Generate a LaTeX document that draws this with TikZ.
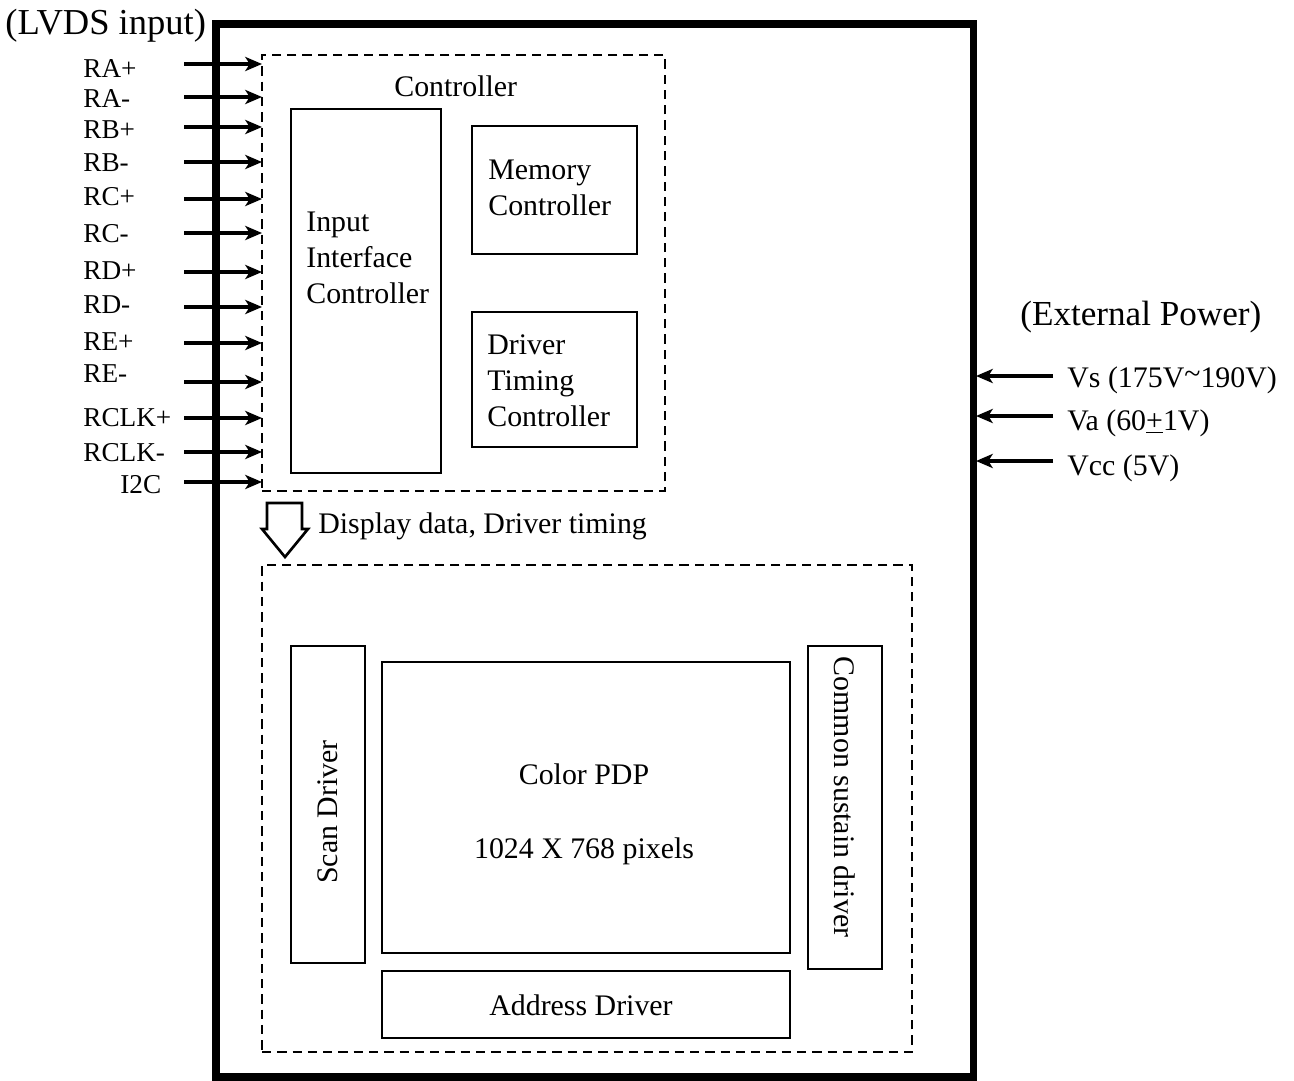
\documentclass[tikz,border=0pt]{standalone}
\usepackage{fontspec}
\setmainfont{Liberation Serif}
\usetikzlibrary{arrows.meta,fit}
\begin{document}
\begin{tikzpicture}[x=0.02cm,y=-0.02cm,
 box/.style={draw, line width=1.5pt, inner sep=0pt},
 dbox/.style={draw, line width=1.4pt, dash pattern=on 5.3pt off 3.4pt, inner sep=0pt},
 outer/.style={draw, line width=4pt, inner sep=0pt},
 sig/.style={line width=2.2pt, -{Stealth[length=9.5pt,width=8pt,inset=2.5pt]}},
 lab/.style={font=\fontsize{15.5}{18}\selectfont, inner sep=0pt, anchor=base west},
 txt/.style={font=\fontsize{17}{20.5}\selectfont, inner sep=0pt, align=left},
 big/.style={font=\fontsize{20.8}{24}\selectfont, inner sep=0pt, anchor=base west},
]
\useasboundingbox (0,0) rectangle (1294,1081);
% frames
\node[outer, fit={(216,24) (973,1077)}] (outerbox) {};
\node[dbox, fit={(262,55) (665,491)}] (ctrl) {};
\node[box, fit={(291,109) (441,473)}] (iic) {};
\node[box, fit={(472,126) (637,254)}] (mem) {};
\node[box, fit={(472,312) (637,447)}] (dtc) {};
\node[dbox, fit={(262,565) (912,1052)}] (panel) {};
\node[box, fit={(291,646) (365,963)}] (scan) {};
\node[box, fit={(382,662) (790,953)}] (pdp) {};
\node[box, fit={(382,971) (790,1038)}] (addr) {};
\node[box, fit={(808,646) (882,969)}] (sus) {};
% texts
\node[big] (lvds) at (5,35) {(LVDS input)};
\node[big, font=\fontsize{20}{24}\selectfont] (ext) at (1020,325) {(External Power)};
\node[txt, anchor=base west] (ctrltxt) at (394,97) {Controller};
\node[txt, anchor=west] (iictxt) at (306,258) {Input\\Interface\\Controller};
\node[txt, anchor=west] (memtxt) at (488,188) {Memory\\Controller};
\node[txt, anchor=west] (dtctxt) at (487,381) {Driver\\Timing\\Controller};
\node[txt, anchor=base] (pdp1) at (584,784) {Color PDP};
\node[txt, anchor=base] (pdp2) at (584,858) {1024 X 768 pixels};
\node[txt, anchor=base] (addrtxt) at (581,1015) {Address Driver};
\node[txt, rotate=90] (scantxt) at (328,812) {Scan Driver};
\node[txt, rotate=-90] (sustxt) at (845,797) {Common sustain driver};
\node[txt, anchor=base west] (disp) at (318,533) {Display data, Driver timing};
% hollow arrow
\draw[line width=1.5pt, line join=miter] (267,503) -- (302,503) -- (302,529) -- (308,529) -- (285,557) -- (262,529) -- (267,529) -- cycle;
% input signals
\foreach \name/\ly/\ay/\lx in {RA+/78/64/83, RA-/108/97/83, RB+/139/127/83, RB-/172/162/83,
  RC+/206/199/83, RC-/242/233/83, RD+/279/272/83, RD-/313/307/83, RE+/350/343/83,
  RE-/382/382/83, RCLK+/426/418/83, RCLK-/461/452/83, I2C/493/482/120}{
  \node[lab] (l\name) at (\lx,\ly) {\name};
  \coordinate (s\name) at (184,\ay);
  \coordinate (e\name) at (262,\ay);
  \draw[sig] (s\name) -- (e\name);
}
% power
\foreach \name/\ptxt/\ly/\ay in {vs/{Vs (175V\raisebox{0.25ex}{\textasciitilde}190V)}/387/376, va/{Va (60\underline{+}1V)}/430/416, vcc/{Vcc (5V)}/475/461}{
  \node[txt, anchor=base west] (p\name) at (1067,\ly) {\ptxt};
  \coordinate (ps\name) at (1053,\ay);
  \coordinate (pe\name) at (976,\ay);
  \draw[sig] (ps\name) -- (pe\name);
}
\end{tikzpicture}
\end{document}
